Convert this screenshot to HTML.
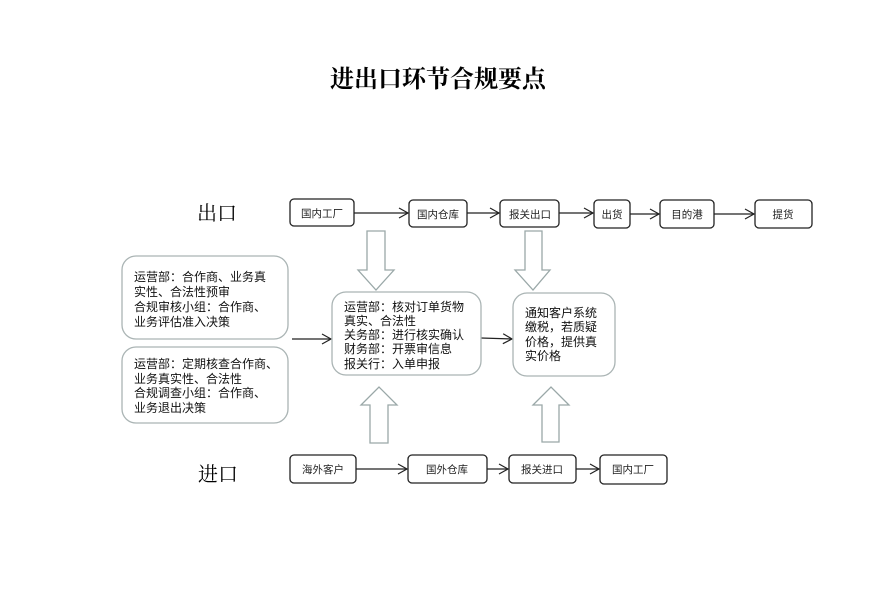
<!DOCTYPE html>
<html><head><meta charset="utf-8"><style>
html,body{margin:0;padding:0;background:#fff;width:887px;height:593px;overflow:hidden}
svg text{font-family:"Liberation Sans","Noto Sans CJK SC",sans-serif}
</style></head><body>
<svg width="887" height="593" viewBox="0 0 887 593" xmlns="http://www.w3.org/2000/svg">
<defs><marker id="a" markerWidth="12" markerHeight="12" refX="10" refY="6" orient="auto" markerUnits="userSpaceOnUse"><path d="M1,1 L10,6 L1,11" fill="none" stroke="#222" stroke-width="1.2"/></marker></defs>
<text x="438" y="87" text-anchor="middle" font-size="24" font-weight="bold" style="font-family:'Noto Serif CJK SC',serif">进出口环节合规要点</text>
<text x="217" y="220" text-anchor="middle" font-size="20" style="font-family:'Noto Serif CJK SC',serif">出口</text>
<text x="218" y="481" text-anchor="middle" font-size="20" style="font-family:'Noto Serif CJK SC',serif">进口</text>
<g fill="#fff" stroke="#222" stroke-width="1.3">
<rect x="290" y="199" width="64" height="27" rx="4"/>
<rect x="409" y="200" width="58" height="27" rx="4"/>
<rect x="500" y="200" width="59" height="27" rx="4"/>
<rect x="594" y="200" width="36" height="28" rx="4"/>
<rect x="660" y="200" width="54" height="28" rx="4"/>
<rect x="755" y="200" width="57" height="28" rx="4"/>
<rect x="290" y="455" width="66" height="28" rx="4"/>
<rect x="408" y="455" width="79" height="28" rx="4"/>
<rect x="509" y="455" width="67" height="28" rx="4"/>
<rect x="600" y="455" width="67" height="29" rx="4"/>
</g>
<g font-size="10.5" text-anchor="middle" fill="#222">
<text x="322" y="217">国内工厂</text><text x="438" y="218">国内仓库</text><text x="530" y="218">报关出口</text>
<text x="612" y="218">出货</text><text x="687" y="218">目的港</text><text x="783" y="218">提货</text>
<text x="323" y="473">海外客户</text><text x="447" y="473">国外仓库</text><text x="542" y="473">报关进口</text><text x="633" y="473">国内工厂</text>
</g>
<g stroke="#222" stroke-width="1.2" marker-end="url(#a)">
<line x1="354" y1="213" x2="408" y2="213"/><line x1="467" y1="213" x2="499" y2="213"/>
<line x1="559" y1="213" x2="593" y2="213"/><line x1="630" y1="214" x2="659" y2="214"/>
<line x1="714" y1="214" x2="754" y2="214"/>
<line x1="356" y1="469" x2="407" y2="469"/><line x1="487" y1="469" x2="508" y2="469"/>
<line x1="576" y1="469" x2="599" y2="469"/>
<line x1="292" y1="339" x2="331" y2="339"/><line x1="481" y1="338" x2="512" y2="339"/>
</g>
<g fill="#fff" stroke="#9aa8a8" stroke-width="1.3">
<path d="M367,231 H385 V270 H394 L376,290 L358,270 H367 Z"/>
<path d="M525,231 H542 V270 H550 L533,290 L515,270 H525 Z"/>
<path d="M370,443 H388 V405 H397 L379,387 L361,405 H370 Z"/>
<path d="M542,442 H559 V405 H569 L551,387 L533,405 H542 Z"/>
</g>
<g fill="#fff" stroke="#aab4b4" stroke-width="1.3">
<rect x="122" y="256" width="166" height="83" rx="14"/>
<rect x="122" y="347" width="166" height="76" rx="14"/>
<rect x="332" y="292" width="149" height="83" rx="14"/>
<rect x="513" y="293" width="102" height="83" rx="14"/>
</g>
<g font-size="12" fill="#111">
<text x="134" y="281">运营部：合作商、业务真</text><text x="134" y="296">实性、合法性预审</text>
<text x="134" y="311">合规审核小组：合作商、</text><text x="134" y="326">业务评估准入决策</text>
<text x="134" y="368">运营部：定期核查合作商、</text><text x="134" y="383">业务真实性、合法性</text>
<text x="134" y="397">合规调查小组：合作商、</text><text x="134" y="412">业务退出决策</text>
<text x="344" y="311">运营部：核对订单货物</text><text x="344" y="325">真实、合法性</text>
<text x="344" y="339">关务部：进行核实确认</text><text x="344" y="353">财务部：开票审信息</text>
<text x="344" y="368">报关行：入单申报</text>
<text x="525" y="317">通知客户系统</text><text x="525" y="331">缴税，若质疑</text>
<text x="525" y="346">价格，提供真</text><text x="525" y="360">实价格</text>
</g>
</svg>
</body></html>
